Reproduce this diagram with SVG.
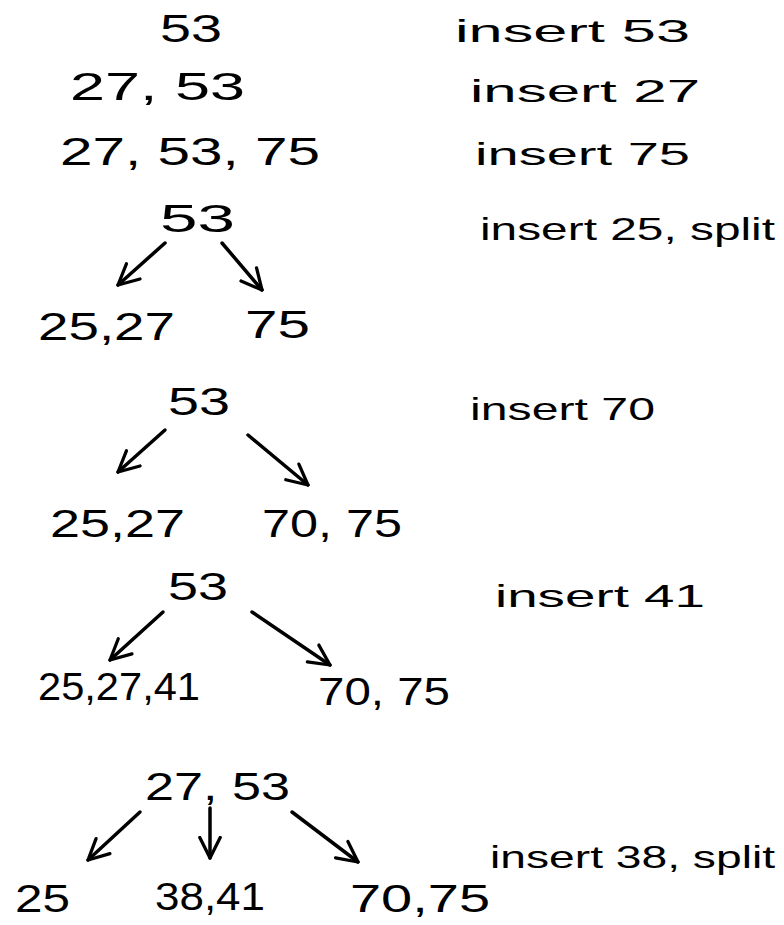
<svg xmlns="http://www.w3.org/2000/svg" width="784" height="925" viewBox="0 0 784 925">
<style>
.n{font-family:"Liberation Sans",Arial,sans-serif;font-size:38px;fill:#000}
.l{font-family:"Liberation Sans",Arial,sans-serif;font-size:32px;fill:#000}
.c line{stroke:#000;stroke-width:3.5;stroke-linecap:round;fill:none}
</style>
<defs>
<marker id="a" viewBox="0 0 12 12" refX="11" refY="6" markerWidth="7" markerHeight="7" orient="auto" markerUnits="strokeWidth">
<path d="M1,1 L11,6 L1,11" fill="none" stroke="#000" stroke-width="1.6" stroke-linecap="round" stroke-linejoin="round"/>
</marker>
</defs>
<rect width="784" height="925" fill="#fff"/>
<g id="s1"><text class="n" x="160" y="42" textLength="62" lengthAdjust="spacingAndGlyphs">53</text></g>
<g id="l1"><text class="l" x="455" y="42" textLength="235" lengthAdjust="spacingAndGlyphs">insert 53</text></g>
<g id="s2"><text class="n" x="70" y="100" textLength="175" lengthAdjust="spacingAndGlyphs">27, 53</text></g>
<g id="l2"><text class="l" x="470" y="102" textLength="230" lengthAdjust="spacingAndGlyphs">insert 27</text></g>
<g id="s3"><text class="n" x="60" y="165" textLength="260" lengthAdjust="spacingAndGlyphs">27, 53, 75</text></g>
<g id="l3"><text class="l" x="475" y="165" textLength="215" lengthAdjust="spacingAndGlyphs">insert 75</text></g>
<g id="s4root"><text class="n" x="160" y="232" textLength="75" lengthAdjust="spacingAndGlyphs">53</text></g>
<g id="l4"><text class="l" x="480" y="240" textLength="295" lengthAdjust="spacingAndGlyphs">insert 25, split</text></g>
<g id="s4a"><text class="n" x="38" y="340" textLength="137" lengthAdjust="spacingAndGlyphs">25,27</text></g>
<g id="s4b"><text class="n" x="245" y="338" textLength="65" lengthAdjust="spacingAndGlyphs">75</text></g>
<g id="s5root"><text class="n" x="168" y="415" textLength="62" lengthAdjust="spacingAndGlyphs">53</text></g>
<g id="l5"><text class="l" x="470" y="420" textLength="185" lengthAdjust="spacingAndGlyphs">insert 70</text></g>
<g id="s5a"><text class="n" x="50" y="537" textLength="135" lengthAdjust="spacingAndGlyphs">25,27</text></g>
<g id="s5b"><text class="n" x="262" y="537" textLength="140" lengthAdjust="spacingAndGlyphs">70, 75</text></g>
<g id="s6root"><text class="n" x="168" y="600" textLength="60" lengthAdjust="spacingAndGlyphs">53</text></g>
<g id="l6"><text class="l" x="495" y="607" textLength="210" lengthAdjust="spacingAndGlyphs">insert 41</text></g>
<g id="s6a"><text class="n" x="38" y="700" textLength="162" lengthAdjust="spacingAndGlyphs">25,27,41</text></g>
<g id="s6b"><text class="n" x="318" y="705" textLength="132" lengthAdjust="spacingAndGlyphs">70, 75</text></g>
<g id="s7root"><text class="n" x="145" y="800" textLength="145" lengthAdjust="spacingAndGlyphs">27, 53</text></g>
<g id="l7"><text class="l" x="490" y="868" textLength="285" lengthAdjust="spacingAndGlyphs">insert 38, split</text></g>
<g id="s7a"><text class="n" x="15" y="912" textLength="55" lengthAdjust="spacingAndGlyphs">25</text></g>
<g id="s7b"><text class="n" x="155" y="910" textLength="110" lengthAdjust="spacingAndGlyphs">38,41</text></g>
<g id="s7c"><text class="n" x="350" y="912" textLength="140" lengthAdjust="spacingAndGlyphs">70,75</text></g>
<g class="c" id="connectors">
<line x1="165" y1="243" x2="118" y2="285" marker-end="url(#a)"/>
<line x1="222" y1="243" x2="262" y2="290" marker-end="url(#a)"/>
<line x1="165" y1="430" x2="118" y2="472" marker-end="url(#a)"/>
<line x1="248" y1="435" x2="308" y2="485" marker-end="url(#a)"/>
<line x1="163" y1="612" x2="110" y2="660" marker-end="url(#a)"/>
<line x1="252" y1="612" x2="330" y2="665" marker-end="url(#a)"/>
<line x1="140" y1="812" x2="88" y2="860" marker-end="url(#a)"/>
<line x1="210" y1="808" x2="210" y2="858" marker-end="url(#a)"/>
<line x1="292" y1="812" x2="358" y2="862" marker-end="url(#a)"/>
</g>
</svg>
